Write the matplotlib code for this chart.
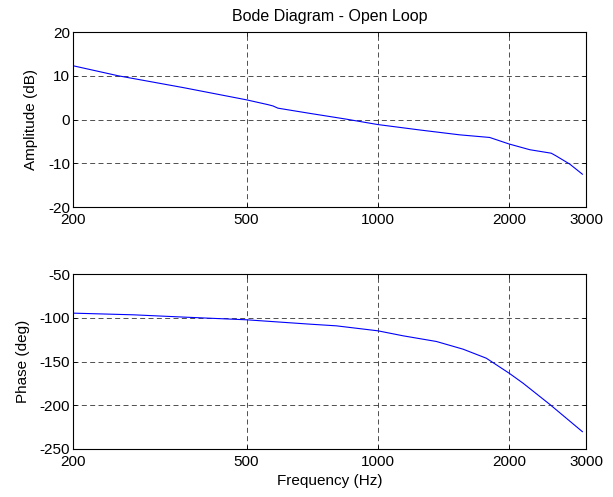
import matplotlib
matplotlib.use("Agg")
import matplotlib.pyplot as plt
from matplotlib.ticker import FixedLocator, NullLocator, FixedFormatter

plt.rcParams['font.family'] = ['Liberation Sans', 'DejaVu Sans']
plt.rcParams['font.size'] = 11
plt.rcParams['axes.unicode_minus'] = False

# values (frequency in Hz)
freq_amp = [200, 254, 358, 500, 560, 575, 590, 699, 845, 1000, 1250, 1540,
            1804, 2000, 2229, 2497, 2560, 2754, 2943]
amp_db = [12.3, 10.0, 7.3, 4.5, 3.4, 3.1, 2.6, 1.4, 0.1, -1.15, -2.4, -3.5,
          -4.1, -5.6, -6.9, -7.7, -8.3, -10.2, -12.5]

freq_ph = [200, 275, 358, 500, 699, 803, 1000, 1142, 1362, 1568, 1772,
           2000, 2152, 2476, 2943]
phase_deg = [-94.7, -96.6, -99.2, -102.3, -107.3, -109.2, -114.9, -120.6,
             -127.1, -135.9, -146.2, -163.4, -174.8, -198.9, -230.2]

xticks = [200, 500, 1000, 2000, 3000]
xticklabels = ['200', '500', '1000', '2000', '3000']
amp_ticks = [-20, -10, 0, 10, 20]
phase_ticks = [-250, -200, -150, -100, -50]

fig = plt.figure(figsize=(6.13, 4.97), dpi=100)
ax1 = fig.add_axes([0.119, 0.5835, 0.837, 0.352])
ax2 = fig.add_axes([0.119, 0.0966, 0.837, 0.352])


def style(ax, yticks):
    ax.set_xscale('log')
    ax.set_xlim(200, 3000)
    ax.xaxis.set_major_locator(FixedLocator(xticks))
    ax.xaxis.set_major_formatter(FixedFormatter(xticklabels))
    ax.xaxis.set_minor_locator(NullLocator())
    ax.set_yticks(yticks)
    ax.set_ylim(yticks[0], yticks[-1])
    ax.tick_params(direction='in', length=3, width=0.6, top=True, right=True,
                   labelsize=11, pad=2)
    ax.tick_params(axis='x', pad=4)
    ax.grid(True, color='#333333', linestyle=(0, (6, 4)), linewidth=0.6)
    for s in ax.spines.values():
        s.set_linewidth(0.8)


ax1.plot(freq_amp, amp_db, color='#0000ff', linewidth=0.8)
style(ax1, amp_ticks)
ax1.set_ylabel('Amplitude (dB)', fontsize=11, labelpad=7)
ax1.set_title('Bode Diagram - Open Loop', fontsize=11.5, pad=8)

ax2.plot(freq_ph, phase_deg, color='#0000ff', linewidth=0.8)
style(ax2, phase_ticks)
ax2.set_ylabel('Phase (deg)', fontsize=11, labelpad=7)
ax2.set_xlabel('Frequency (Hz)', fontsize=11, labelpad=4)

fig.savefig('out.png', dpi=100)
